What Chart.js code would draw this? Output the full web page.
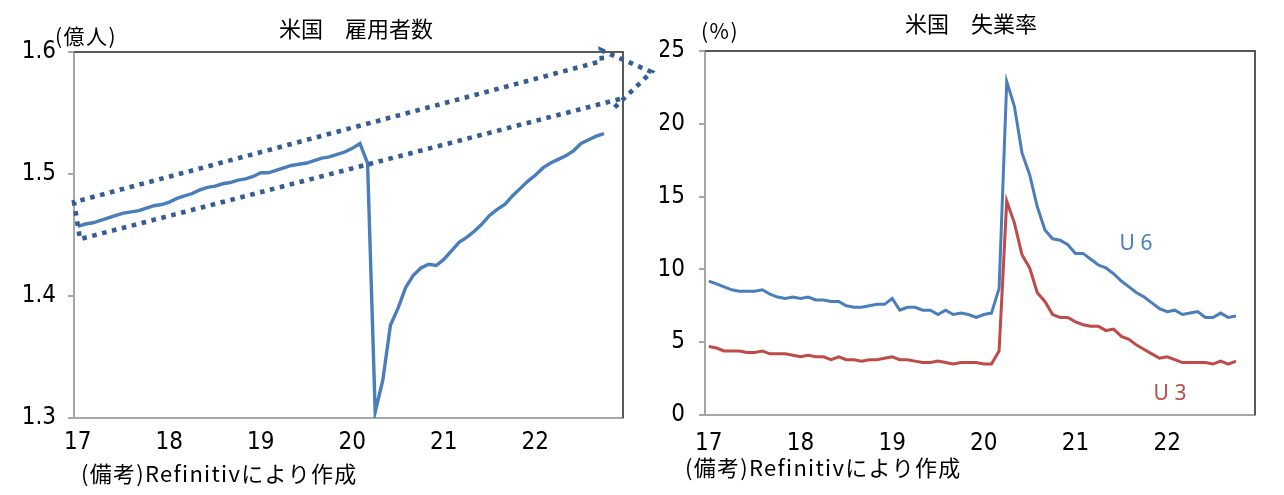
<!DOCTYPE html>
<html><head><meta charset="utf-8">
<script src="https://cdn.jsdelivr.net/npm/chart.js@4.4.0/dist/chart.umd.min.js"></script>
<style>
html,body{margin:0;padding:0;background:#fff;width:1284px;height:495px;overflow:hidden}
#c1{position:absolute;left:0;top:0}
#c2{position:absolute;left:660px;top:0}
</style></head><body>
<canvas id="c1" width="660" height="495"></canvas>
<canvas id="c2" width="624" height="495"></canvas>
<script>
// ---- data ----
const years = ['17','18','19','20','21','22'];
// US nonfarm employment, 100 million persons, Jan 2017 - Oct 2022
const employment = [
  1.457,1.459,1.460,1.462,1.464,1.466,1.468,1.469,1.470,1.472,1.474,1.475,
  1.477,1.480,1.482,1.484,1.487,1.489,1.490,1.492,1.493,1.495,1.496,1.498,
  1.501,1.501,1.503,1.505,1.507,1.508,1.509,1.511,1.513,1.514,1.516,1.518,
  1.521,1.525,1.509,1.305,1.331,1.376,1.390,1.407,1.417,1.423,1.426,1.425,
  1.430,1.437,1.444,1.448,1.453,1.459,1.466,1.471,1.475,1.482,1.488,1.494,
  1.499,1.505,1.509,1.512,1.515,1.519,1.525,1.528,1.531,1.533
];
// U6 unemployment rate (%)
const u6 = [
  9.2,9.0,8.8,8.6,8.5,8.5,8.5,8.6,8.3,8.1,8.0,8.1,
  8.0,8.1,7.9,7.9,7.8,7.8,7.5,7.4,7.4,7.5,7.6,7.6,
  8.0,7.2,7.4,7.4,7.2,7.2,6.9,7.2,6.9,7.0,6.9,6.7,
  6.9,7.0,8.7,22.9,21.2,18.0,16.5,14.3,12.7,12.1,12.0,11.7,
  11.1,11.1,10.7,10.3,10.1,9.7,9.2,8.8,8.4,8.1,7.7,7.3,
  7.1,7.2,6.9,7.0,7.1,6.7,6.7,7.0,6.7,6.8
];
// U3 unemployment rate (%)
const u3 = [
  4.7,4.6,4.4,4.4,4.4,4.3,4.3,4.4,4.2,4.2,4.2,4.1,
  4.0,4.1,4.0,4.0,3.8,4.0,3.8,3.8,3.7,3.8,3.8,3.9,
  4.0,3.8,3.8,3.7,3.6,3.6,3.7,3.6,3.5,3.6,3.6,3.6,
  3.5,3.5,4.4,14.7,13.2,11.0,10.1,8.4,7.8,6.9,6.7,6.7,
  6.4,6.2,6.1,6.1,5.8,5.9,5.4,5.2,4.8,4.5,4.2,3.9,
  4.0,3.8,3.6,3.6,3.6,3.6,3.5,3.7,3.5,3.7
];
// dotted outline annotation on the employment chart: [month index, value]
const trendOutline = [
  [71.1,1.5615],[0.29,1.4467],[-0.5,1.477],[68.75,1.5926],[68.6,1.6016],[75.24,1.5836],[70.19,1.5533]
];

const months = [];
years.forEach(y => { for (let m = 1; m <= 12; m++) months.push(y + '/' + m); });

// ---- styles ----
const tickFont = {family: "'Liberation Sans Narrow','DejaVu Sans Condensed','Arial Narrow',sans-serif", size: 24};
const cjk = "'Noto Sans CJK JP','Noto Sans CJK SC',sans-serif";
const axisGray = '#a6a6a6';
const frameGray = '#595959';

function drawFrame(chart) {
  const {ctx, chartArea: a} = chart;
  ctx.save();
  ctx.strokeStyle = frameGray; ctx.lineWidth = 2;
  ctx.beginPath();
  ctx.moveTo(a.left, a.top); ctx.lineTo(a.right, a.top); ctx.lineTo(a.right, a.bottom);
  ctx.stroke();
  ctx.restore();
}
function text(ctx, str, x, y, font, color, align, spacing) {
  ctx.save();
  ctx.font = font; ctx.fillStyle = color; ctx.textAlign = align; ctx.textBaseline = 'middle';
  if (spacing) ctx.letterSpacing = spacing;
  ctx.fillText(str, x, y);
  ctx.restore();
}

const leftDeco = {
  id: 'leftDeco',
  afterDraw(chart) {
    const ctx = chart.ctx, xs = chart.scales.x, ys = chart.scales.y;
    drawFrame(chart);
    ctx.save();
    ctx.strokeStyle = '#345d93'; ctx.lineWidth = 4.6; ctx.setLineDash([4.6, 5.6]);
    ctx.beginPath();
    trendOutline.forEach(([i, v], k) => {
      const px = xs.getPixelForValue(i), py = ys.getPixelForValue(v);
      if (k === 0) ctx.moveTo(px, py); else ctx.lineTo(px, py);
    });
    ctx.stroke();
    ctx.restore();
    text(ctx, '米国　雇用者数', 356, 29, "22px " + cjk, '#000', 'center');
    text(ctx, '(億人)', 55, 36, "21px " + cjk, '#000', 'left', '1.5px');
    text(ctx, '(備考)Refinitivにより作成', 81, 474, "22px " + cjk, '#000', 'left', '1.3px');
  }
};
const rightDeco = {
  id: 'rightDeco',
  afterDraw(chart) {
    const ctx = chart.ctx;
    drawFrame(chart);
    text(ctx, '米国　失業率', 311, 24, "22px " + cjk, '#000', 'center');
    text(ctx, '(%)', 41, 31, "21px " + cjk, '#000', 'left', '1.5px');
    text(ctx, '(備考)Refinitivにより作成', 25, 468, "22px " + cjk, '#000', 'left', '1.3px');
    text(ctx, 'U 6', 476, 244, "21px 'Noto Sans',sans-serif", '#4a7ebb', 'center');
    text(ctx, 'U 3', 510, 394, "21px 'Noto Sans',sans-serif", '#be4b48', 'center');
  }
};

function xScale(pad, h) {
  return {
    type: 'category', offset: true,
    grid: {display: false, drawTicks: false},
    border: {display: true, color: axisGray, width: 2},
    ticks: {autoSkip: false, maxRotation: 0, minRotation: 0, padding: pad, color: '#000', font: tickFont,
      callback: (v, i) => (i % 12 === 0 ? years[i / 12] : '')},
    afterFit: s => { s.height = h; }
  };
}
function yScale(min, max, step, pad, w, fmt) {
  return {
    min: min, max: max,
    grid: {display: true, drawOnChartArea: false, drawTicks: true, tickLength: 6, color: axisGray, lineWidth: 2},
    border: {display: true, color: axisGray, width: 2},
    ticks: {stepSize: step, padding: pad, color: '#000', font: tickFont, callback: fmt},
    afterFit: s => { s.width = w; }
  };
}

new Chart(document.getElementById('c1'), {
  type: 'line',
  data: {labels: months, datasets: [{data: employment, borderColor: '#4a7ebb', borderWidth: 3.4, pointRadius: 0, tension: 0, fill: false}]},
  options: {
    responsive: false, animation: false, events: [],
    layout: {padding: {left: 0, right: 37, top: 52, bottom: 0}},
    plugins: {legend: {display: false}, tooltip: {enabled: false}},
    scales: {x: xScale(10, 77), y: yScale(1.3, 1.6, 0.1, 12, 74, v => v.toFixed(1))}
  },
  plugins: [leftDeco]
});

new Chart(document.getElementById('c2'), {
  type: 'line',
  data: {labels: months, datasets: [
    {data: u6, borderColor: '#4a7ebb', borderWidth: 3, pointRadius: 0, tension: 0, fill: false},
    {data: u3, borderColor: '#be4b48', borderWidth: 3, pointRadius: 0, tension: 0, fill: false}
  ]},
  options: {
    responsive: false, animation: false, events: [],
    layout: {padding: {left: 0, right: 29, top: 51, bottom: 0}},
    plugins: {legend: {display: false}, tooltip: {enabled: false}},
    scales: {x: xScale(14, 80), y: yScale(0, 25, 5, 14, 45, v => String(v))}
  },
  plugins: [rightDeco]
});
</script>
</body></html>
